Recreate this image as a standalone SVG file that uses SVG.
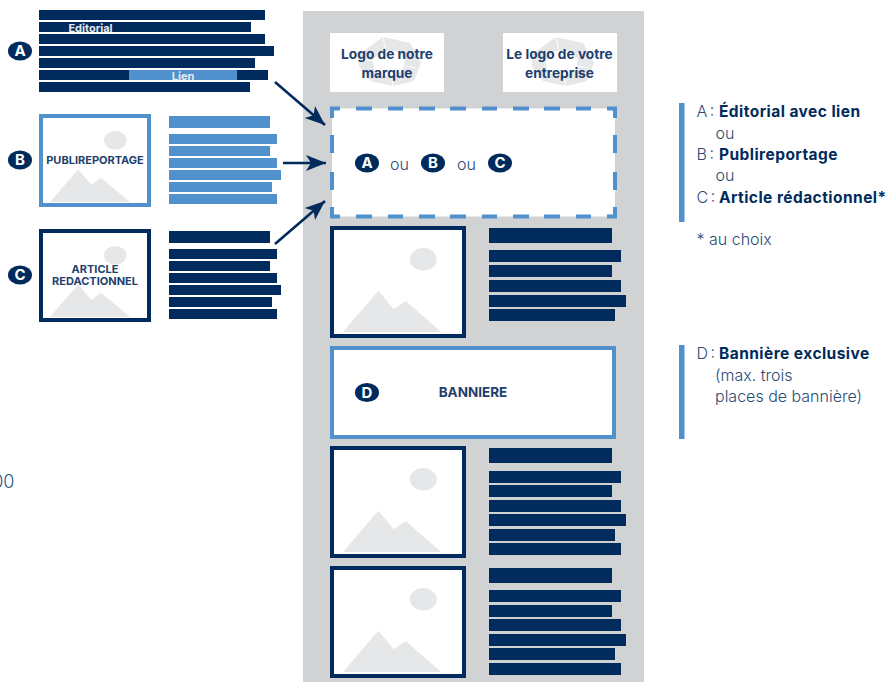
<svg xmlns="http://www.w3.org/2000/svg" xmlns:xlink="http://www.w3.org/1999/xlink" width="886" height="682" viewBox="0 0 886 682">
<style>
text{font-family:Inter,"Liberation Sans",sans-serif;fill:#2b4a75}
.n{fill:#002b5c}.b{fill:#5090cd}.g{fill:#e6e7e8}.w{fill:#fff}
.lg{font-size:16px;font-weight:300}
.k{word-spacing:-2px}
.lb{font-size:15.500px;font-weight:700;fill:#002b5c;letter-spacing:.45px}
.h{font-size:13.700px;font-weight:700;fill:#1f3f6e;text-anchor:middle}
.s{font-size:11px;font-weight:700;fill:#1f3f6e;text-anchor:middle}
.bt{font-size:15px;font-weight:700;fill:#fff;text-anchor:middle}
.c{fill:none;stroke:#002b5c;stroke-width:2.6}
</style>
<defs>
<marker id="ah" markerUnits="userSpaceOnUse" markerWidth="26" markerHeight="22" refX="22" refY="10" orient="auto">
<path d="M22 10 L2 2 L7 10 L2 18Z" fill="#002b5c"/>
</marker>
<g id="badge"><ellipse rx="12" ry="9.600" class="n"/></g>
<g id="logo">
<polygon class="g" points="-30,-7 -5,-25 22,-19 33,1 26,19 5,24 -18,19 -29,4"/>
<polygon class="w" points="-15,-2 -6,-11 8,-11 17,-3 15,8 6,14 -7,14 -14,8"/>
<path d="M-5,-25L-2,-10M-30,-3L-14,-1M5,24L3,13M28,6L16,4" stroke="#fff" stroke-width="1" fill="none"/>
</g>
<g id="picL">
<polygon class="g" points="343,332 378.300,290.700 393.700,309.300 405.700,301 441.300,332"/>
<ellipse class="g" cx="423.300" cy="259.300" rx="13.500" ry="11.200"/>
</g>
<g id="picS">
<polygon class="g" points="50,202 78.300,169.300 91.300,185 101,177.700 130,202"/>
<ellipse class="g" cx="115.300" cy="140.300" rx="11.300" ry="9.300"/>
</g>
</defs>

<rect id="page" x="303" y="11" width="341" height="671" fill="#d1d2d4"/>
<text id="clipped" x="14.500" y="488" font-size="18" font-weight="300" text-anchor="end" style="fill:#2b5a8f">00</text>

<g id="node-a">
<rect class="n" x="39" y="10" width="226" height="10"/>
<rect class="n" x="39" y="22" width="212" height="10"/>
<rect class="n" x="39" y="34" width="226" height="10"/>
<rect class="n" x="39" y="46" width="235" height="10"/>
<rect class="n" x="39" y="58" width="216" height="10"/>
<rect class="n" x="39" y="70" width="229" height="10"/>
<rect class="b" x="129" y="70" width="108" height="10"/>
<rect class="n" x="39" y="82" width="211" height="10"/>
<text x="90.500" y="32" font-size="11" font-weight="700" text-anchor="middle" style="fill:#e6e9ee">Editorial</text>
<text x="183" y="80" font-size="11" font-weight="700" text-anchor="middle" style="fill:#e6e9ee">Lien</text>
<use xlink:href="#badge" x="20" y="51"/><text class="bt" x="20" y="56.400">A</text>
</g>

<g id="node-b">
<rect x="41" y="116" width="108" height="89" fill="#fff" stroke="#5090cd" stroke-width="4"/>
<use xlink:href="#picS"/>
<text class="s" x="95" y="164">PUBLIREPORTAGE</text>
<rect class="b" x="169" y="116" width="101" height="12"/>
<rect class="b" x="169" y="134" width="108" height="10"/>
<rect class="b" x="169" y="146" width="101" height="10"/>
<rect class="b" x="169" y="158" width="108" height="10"/>
<rect class="b" x="169" y="170" width="112" height="10"/>
<rect class="b" x="169" y="182" width="103" height="10"/>
<rect class="b" x="169" y="194" width="108" height="10"/>
<use xlink:href="#badge" x="20" y="160"/><text class="bt" x="20" y="165.400">B</text>
</g>

<g id="node-c">
<rect x="41" y="231" width="108" height="89" fill="#fff" stroke="#002b5c" stroke-width="4"/>
<use xlink:href="#picS" y="115"/>
<text class="s" x="95" y="273">ARTICLE</text>
<text class="s" x="95" y="285">REDACTIONNEL</text>
<rect class="n" x="169" y="231" width="101" height="12"/>
<rect class="n" x="169" y="249" width="108" height="10"/>
<rect class="n" x="169" y="261" width="101" height="10"/>
<rect class="n" x="169" y="273" width="108" height="10"/>
<rect class="n" x="169" y="285" width="112" height="10"/>
<rect class="n" x="169" y="297" width="103" height="10"/>
<rect class="n" x="169" y="309" width="108" height="10"/>
<use xlink:href="#badge" x="20" y="275"/><text class="bt" x="20" y="280.400">C</text>
</g>

<g id="logo-1">
<rect class="w" x="330" y="33" width="114" height="59"/>
<use xlink:href="#logo" x="388" y="62"/>
<text class="h" x="387" y="58.500">Logo de notre</text>
<text class="h" x="387" y="77.500">marque</text>
</g>
<g id="logo-2">
<rect class="w" x="503" y="33" width="114" height="59"/>
<use xlink:href="#logo" x="561" y="62"/>
<text class="h" x="559.500" y="58.500">Le logo de votre</text>
<text class="h" x="559.500" y="77.500">entreprise</text>
</g>

<g id="slot">
<rect x="332" y="108.500" width="283" height="108" fill="#fff"/>
<path d="M332 118V108.500H340M356 108.500H372M388 108.500H403M419 108.500H435M450 108.500H466M482 108.500H497M513 108.500H529M544 108.500H560M576 108.500H591M607 108.500H615V118M615 135V153M615 172V190M615 207V216.500H607M591 216.500H576M560 216.500H544M529 216.500H513M497 216.500H482M466 216.500H450M435 216.500H419M403 216.500H388M372 216.500H356M340 216.500H332V207M332 190V172M332 153V135" fill="none" stroke="#5090cd" stroke-width="4"/>
<use xlink:href="#badge" x="367" y="163"/><text class="bt" x="367" y="168.400">A</text>
<text x="390" y="170" font-size="16" font-weight="300">ou</text>
<use xlink:href="#badge" x="433" y="163"/><text class="bt" x="433" y="168.400">B</text>
<text x="457" y="170" font-size="16" font-weight="300">ou</text>
<use xlink:href="#badge" x="500" y="163"/><text class="bt" x="500" y="168.400">C</text>
</g>

<g id="article-1">
<rect x="332" y="228" width="132" height="108" fill="#fff" stroke="#002b5c" stroke-width="4"/>
<use xlink:href="#picL"/>
<rect class="n" x="489" y="228" width="123" height="15"/>
<rect class="n" x="489" y="250" width="132" height="12"/>
<rect class="n" x="489" y="265" width="123" height="12"/>
<rect class="n" x="489" y="280" width="132" height="12"/>
<rect class="n" x="489" y="295" width="137" height="12"/>
<rect class="n" x="489" y="309" width="126" height="12"/>
</g>

<g id="banner">
<rect x="332" y="348" width="282" height="89" fill="#fff" stroke="#5090cd" stroke-width="4"/>
<use xlink:href="#badge" x="367" y="392.500"/><text class="bt" x="367" y="397.900">D</text>
<text x="473" y="397" font-size="13.500" font-weight="700" text-anchor="middle" style="fill:#1f3f6e">BANNIERE</text>
</g>

<g id="article-2">
<rect x="332" y="448" width="132" height="108" fill="#fff" stroke="#002b5c" stroke-width="4"/>
<use xlink:href="#picL" y="220"/>
<rect class="n" x="489" y="448" width="123" height="15"/>
<rect class="n" x="489" y="471" width="132" height="12"/>
<rect class="n" x="489" y="485" width="123" height="12"/>
<rect class="n" x="489" y="500" width="132" height="12"/>
<rect class="n" x="489" y="514" width="137" height="12"/>
<rect class="n" x="489" y="529" width="126" height="12"/>
<rect class="n" x="489" y="543" width="132" height="12"/>
</g>

<g id="article-3">
<rect x="332" y="568" width="132" height="108" fill="#fff" stroke="#002b5c" stroke-width="4"/>
<use xlink:href="#picL" y="340"/>
<rect class="n" x="489" y="568" width="123" height="15"/>
<rect class="n" x="489" y="590" width="132" height="12"/>
<rect class="n" x="489" y="605" width="123" height="12"/>
<rect class="n" x="489" y="619" width="132" height="12"/>
<rect class="n" x="489" y="634" width="137" height="12"/>
<rect class="n" x="489" y="648" width="126" height="12"/>
<rect class="n" x="489" y="663" width="132" height="12"/>
</g>

<g id="connectors">
<path class="c" d="M275 82L325 125" marker-end="url(#ah)"/>
<path class="c" d="M283 163L326 163" marker-end="url(#ah)"/>
<path class="c" d="M275 244L325 201" marker-end="url(#ah)"/>
</g>

<g id="legend-1">
<rect class="b" x="679" y="103" width="5.500" height="119"/>
<text class="lg k" x="696.500" y="117">A :</text><text class="lb" x="719" y="117">Éditorial avec lien</text>
<text class="lg" x="715.500" y="139">ou</text>
<text class="lg k" x="696.500" y="160">B :</text><text class="lb" x="719" y="160">Publireportage</text>
<text class="lg" x="715.500" y="181">ou</text>
<text class="lg k" x="696.500" y="203">C :</text><text class="lb" x="719" y="203">Article rédactionnel*</text>
<text class="lg" x="696.500" y="245">* au choix</text>
</g>
<g id="legend-2">
<rect class="b" x="679" y="345" width="5.500" height="94"/>
<text class="lg k" x="696.500" y="359">D :</text><text class="lb" x="719" y="359">Bannière exclusive</text>
<text class="lg" x="715" y="381">(max. trois</text>
<text class="lg" x="715" y="402">places de bannière)</text>
</g>
</svg>
